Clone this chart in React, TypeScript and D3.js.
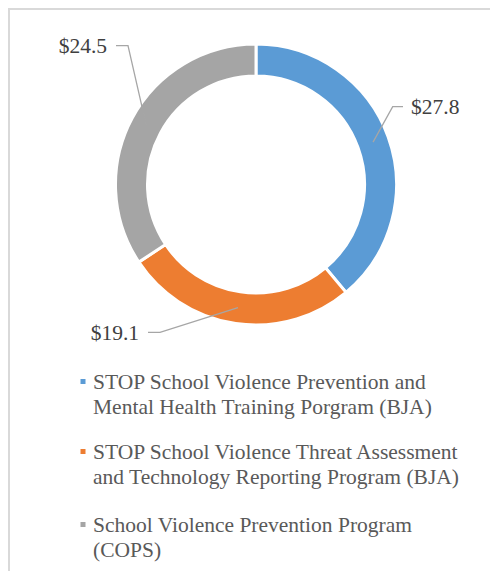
import React from "react";
import * as d3 from "d3";

const categories = [
  "STOP School Violence Prevention and Mental Health Training Porgram (BJA)",
  "STOP School Violence Threat Assessment and Technology Reporting Program (BJA)",
  "School Violence Prevention Program (COPS)",
];
const legendLines = [
  ["STOP School Violence Prevention and", "Mental Health Training Porgram (BJA)"],
  ["STOP School Violence Threat Assessment", "and Technology Reporting Program (BJA)"],
  ["School Violence Prevention Program", "(COPS)"],
];
const values = [27.8, 19.1, 24.5];
const valueLabels = ["$27.8", "$19.1", "$24.5"];
const colors = ["#5B9BD5", "#ED7D31", "#A5A5A5"];

// layout: label elbow points (placement of the data labels)
const labelLayout = [
  { elbowX: 392.7, lineEndX: 403, y: 106.7, textX: 411, anchor: "start" },
  { elbowX: 160, lineEndX: 148, y: 332.3, textX: 139, anchor: "end" },
  { elbowX: 128, lineEndX: 116, y: 45.7, textX: 107, anchor: "end" },
];
const legendBaselines = [389, 459, 532];

const W = 490;
const H = 571;
const cx = 256;
const cy = 184.5;
const R = 140.5;
const r = 108.5;
const FS = 21.5;

export default function App() {
  const pie = d3
    .pie<number>()
    .sort(null)
    .value((d) => d);
  const arcs = pie(values);
  const arc = d3.arc<d3.PieArcDatum<number>>().innerRadius(r).outerRadius(R);

  return (
    <svg
      width={W}
      height={H}
      fontFamily="Liberation Serif"
      style={{ position: "absolute", left: 0, top: 0, background: "#fff" }}
    >
      <rect x={9} y={9} width={W + 20} height={H + 20} fill="#fff" stroke="#D9D9D9" strokeWidth={2} />
      <g transform={`translate(${cx},${cy})`}>
        {arcs.map((a, i) => (
          <path key={i} d={arc(a) || ""} fill={colors[i]} stroke="#fff" strokeWidth={3} />
        ))}
      </g>
      {arcs.map((a, i) => {
        const [mx, my] = arc.centroid(a);
        const L = labelLayout[i];
        const px = cx + mx;
        const py = cy + my;
        return (
          <g key={"l" + i}>
            <polyline
              points={`${px},${py} ${L.elbowX},${L.y} ${L.lineEndX},${L.y}`}
              fill="none"
              stroke="#A6A6A6"
              strokeWidth={1.3}
            />
            <text
              x={L.textX}
              y={L.y}
              dy="0.36em"
              textAnchor={L.anchor as any}
              fontFamily="Liberation Serif"
              fontSize={FS}
              fill="#404040"
            >
              {valueLabels[i]}
            </text>
          </g>
        );
      })}
      {categories.map((c, i) => (
        <g key={"lg" + i}>
          <rect x={80.5} y={legendBaselines[i] - 10} width={5} height={5} fill={colors[i]} />
          {legendLines[i].map((ln, j) => (
            <text
              key={j}
              x={93}
              y={legendBaselines[i] + j * 24.5}
              fontFamily="Liberation Serif"
              fontSize={FS}
              fill="#595959"
            >
              {ln}
            </text>
          ))}
        </g>
      ))}
    </svg>
  );
}
